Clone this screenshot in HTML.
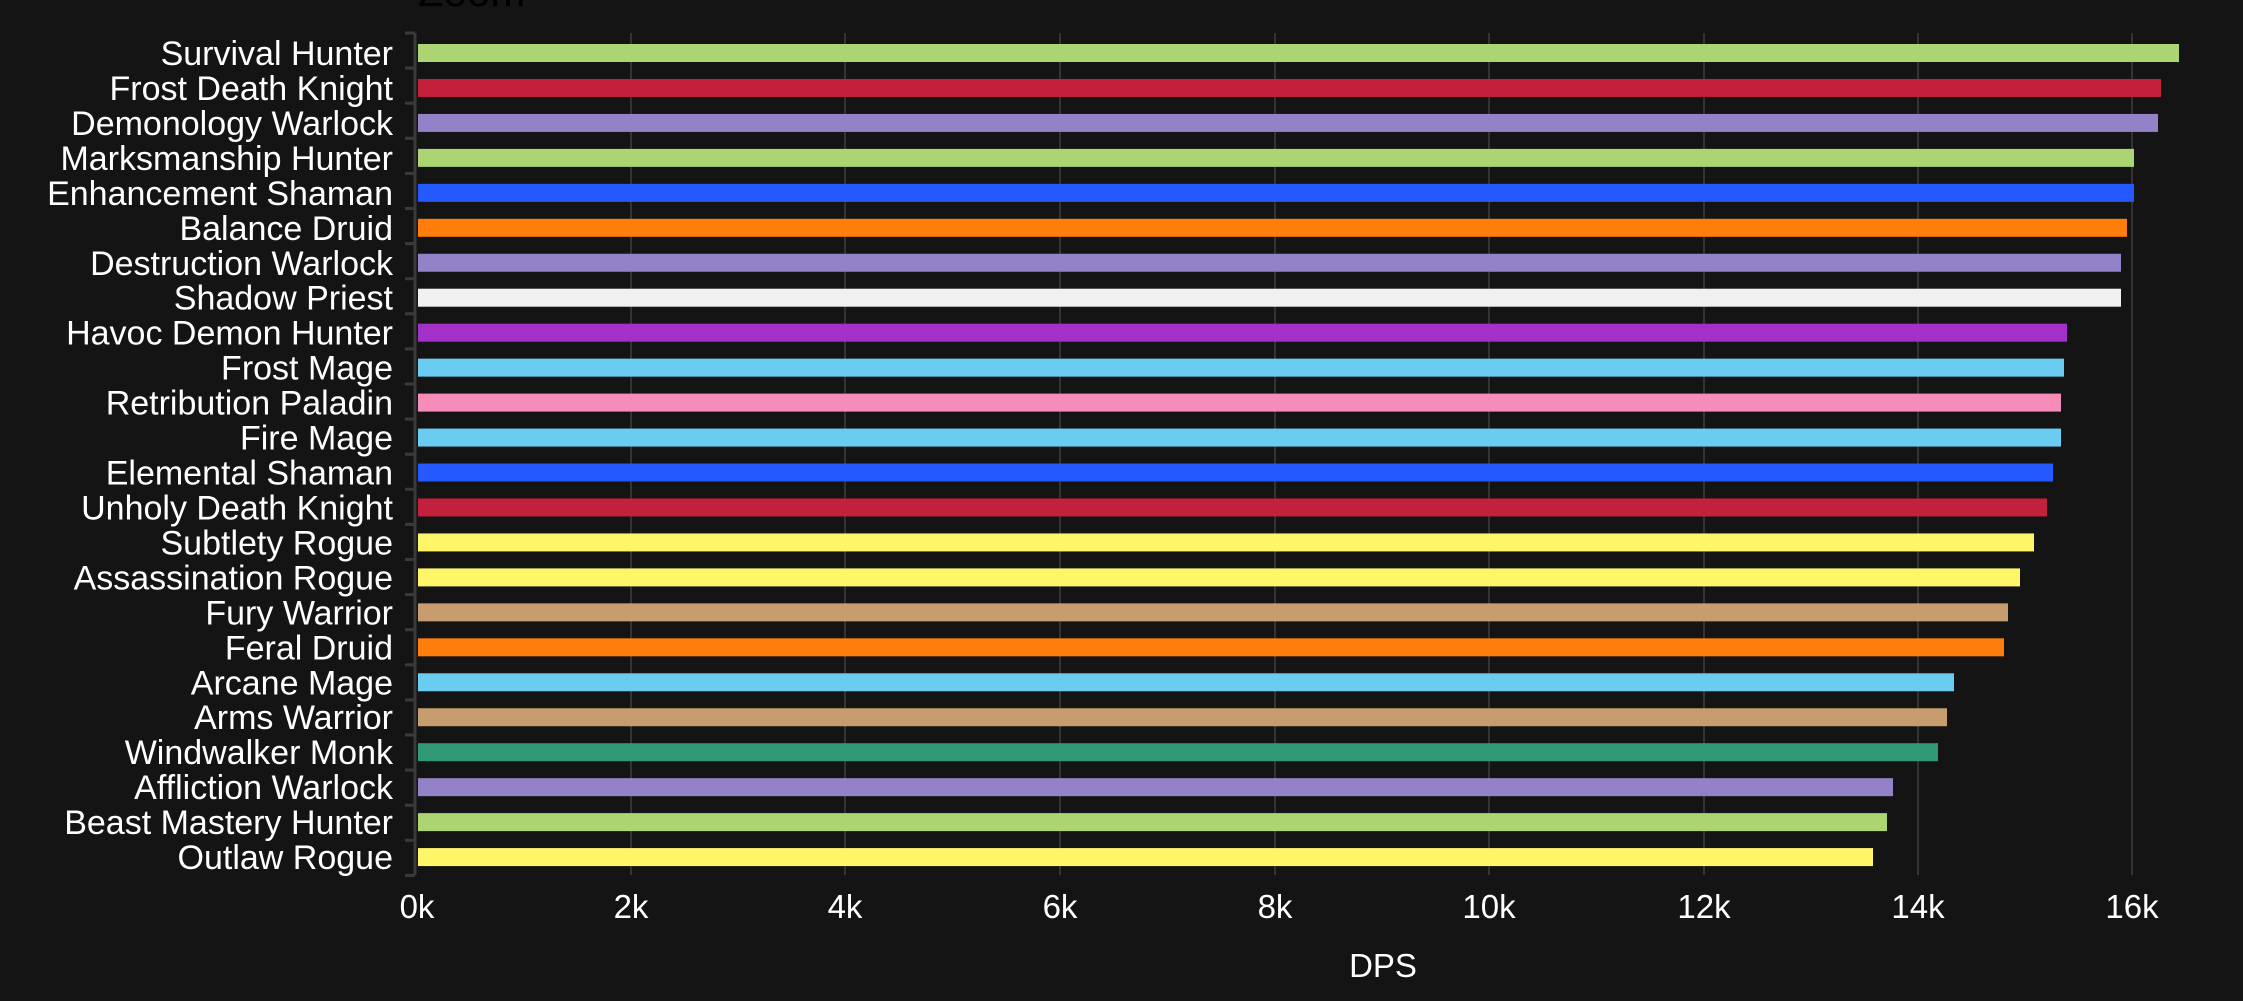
<!DOCTYPE html>
<html><head><meta charset="utf-8"><style>
html,body{margin:0;padding:0;background:#141414;}
svg{display:block;}
text{font-family:"Liberation Sans",sans-serif;fill:#fff;}
</style></head><body>
<svg width="2243" height="1001" viewBox="0 0 2243 1001" xmlns="http://www.w3.org/2000/svg">
<rect width="2243" height="1001" fill="#141414"/>
<text x="418" y="6" font-size="42" style="fill:#000">Zoom</text>
<g stroke="#333" stroke-width="2">
<line x1="631" y1="33" x2="631" y2="875"/><line x1="845" y1="33" x2="845" y2="875"/>
<line x1="1060" y1="33" x2="1060" y2="875"/><line x1="1275" y1="33" x2="1275" y2="875"/>
<line x1="1489" y1="33" x2="1489" y2="875"/><line x1="1704" y1="33" x2="1704" y2="875"/>
<line x1="1918" y1="33" x2="1918" y2="875"/><line x1="2132" y1="33" x2="2132" y2="875"/>
</g>
<g id="bars"></g>
<line x1="415" y1="33" x2="415" y2="875" stroke="#3a3a3a" stroke-width="3"/>
<g id="ticks" stroke="#3a3a3a" stroke-width="3"></g>
<g id="labels" font-size="34" text-anchor="end"></g>
<g font-size="33" text-anchor="middle">
<text x="417" y="918">0k</text><text x="631" y="918">2k</text><text x="845" y="918">4k</text>
<text x="1060" y="918">6k</text><text x="1275" y="918">8k</text><text x="1489" y="918">10k</text>
<text x="1704" y="918">12k</text><text x="1918" y="918">14k</text><text x="2132" y="918">16k</text>
<text x="1383" y="977">DPS</text>
</g>
<script>
var d=[["Survival Hunter",2179,"#abd473"],["Frost Death Knight",2161,"#c41f3b"],["Demonology Warlock",2158,"#9482c9"],["Marksmanship Hunter",2134,"#abd473"],["Enhancement Shaman",2134,"#2459ff"],["Balance Druid",2127,"#ff7d0a"],["Destruction Warlock",2121,"#9482c9"],["Shadow Priest",2121,"#f0f0f0"],["Havoc Demon Hunter",2067,"#a330c9"],["Frost Mage",2064,"#69ccf0"],["Retribution Paladin",2061,"#f58cba"],["Fire Mage",2061,"#69ccf0"],["Elemental Shaman",2053,"#2459ff"],["Unholy Death Knight",2047,"#c41f3b"],["Subtlety Rogue",2034,"#fff569"],["Assassination Rogue",2020,"#fff569"],["Fury Warrior",2008,"#c79c6e"],["Feral Druid",2004,"#ff7d0a"],["Arcane Mage",1954,"#69ccf0"],["Arms Warrior",1947,"#c79c6e"],["Windwalker Monk",1938,"#2f9a74"],["Affliction Warlock",1893,"#9482c9"],["Beast Mastery Hunter",1887,"#abd473"],["Outlaw Rogue",1873,"#fff569"]];
var ns="http://www.w3.org/2000/svg",b=document.getElementById("bars"),t=document.getElementById("ticks"),l=document.getElementById("labels");
function el(p,n,a,tx){var e=document.createElementNS(ns,n);for(var k in a)e.setAttribute(k,a[k]);if(tx)e.textContent=tx;p.appendChild(e);}
for(var i=0;i<25;i++){var y=33+i*35.1;el(t,"line",{x1:405,x2:415,y1:y,y2:y});}
d.forEach(function(r,i){var c=53+i*34.96;el(b,"rect",{x:418,y:c-9,width:r[1]-418,height:18,fill:r[2]});
el(l,"text",{x:393,y:c+12},r[0]);});
</script>
</svg>
</body></html>
